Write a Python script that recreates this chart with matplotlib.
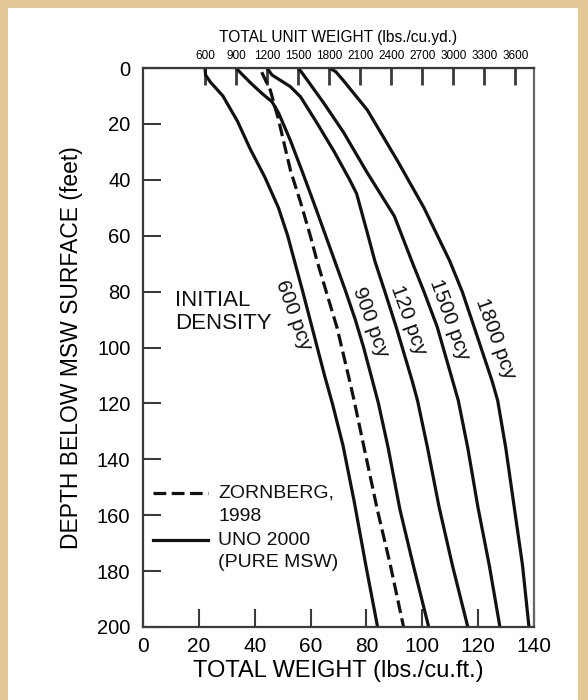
import matplotlib
matplotlib.use("Agg")
import matplotlib.pyplot as plt
from matplotlib.patches import Rectangle

plt.rcParams['font.family'] = ['Liberation Sans', 'DejaVu Sans']

# depth (ft) vs total weight (pcf)
depth_600 = [0, 2.5, 5, 10, 19, 29, 39, 50, 60, 70, 80, 90, 100, 110, 120, 135, 155, 178, 200]
w_600 = [22.2, 22.4, 24.1, 28.6, 33.8, 38.4, 43.6, 48.5, 51.8, 54.5, 57.2, 59.8, 62.4, 65.0, 67.8, 71.6, 75.6, 79.8, 84.0]

depth_900 = [0, 1.9, 5.5, 9.1, 12.1, 16.2, 26, 37, 50, 60, 70, 80, 90, 100, 112, 120, 136, 158, 178, 200]
w_900 = [33.3, 35.1, 38.7, 42.6, 46.2, 48.6, 52.8, 57.0, 61.8, 65.4, 69.0, 72.6, 76.0, 79.0, 82.2, 84.3, 87.8, 92.0, 96.8, 102.3]

depth_1200 = [0, 2.5, 6.7, 10.3, 19.7, 30, 40, 45, 60, 69, 80, 92.5, 112, 119, 136, 157, 178, 200]
w_1200 = [44.4, 46.2, 52.8, 56.4, 62.3, 68.5, 74.0, 76.5, 80.6, 83.0, 86.6, 90.6, 96.4, 98.3, 101.9, 106.0, 110.8, 116.3]

depth_1500 = [0, 1, 4.3, 12.5, 23, 37, 53, 69, 80, 92.5, 112, 119, 136, 157, 178, 200]
w_1500 = [55.6, 56.4, 58.8, 64.7, 71.8, 80.0, 90.0, 96.2, 100.6, 105.3, 110.9, 112.9, 116.3, 119.9, 124.0, 127.8]

depth_1800 = [0, 1.3, 4.3, 15, 33, 50, 69, 80, 92.5, 112, 119, 136, 157, 178, 200]
w_1800 = [66.7, 69.0, 71.6, 80.3, 91.0, 100.6, 109.8, 114.3, 118.5, 125.0, 127.0, 129.9, 132.9, 135.9, 138.2]

# Zornberg 1998
depth_zorn = [1.5, 8, 18, 29, 37, 48, 60, 69, 80, 93, 112, 119, 136, 158, 178, 200]
w_zorn = [42.5, 45.6, 48.4, 51.0, 52.9, 56.4, 59.9, 62.3, 65.6, 69.5, 74.0, 75.6, 79.2, 83.9, 88.6, 93.3]

curve_labels = ['600 pcy', '900 pcy', '120 pcy', '1500 pcy', '1800 pcy']
label_x = [53.9, 81.5, 95.2, 109.6, 126.3]
label_y = [88.4, 90.8, 90.2, 90.2, 96.7]

top_ticks = list(range(600, 3601, 300))
dark = '#111111'
frame = '#3a3a3a'

fig = plt.figure(figsize=(5.88, 7.0), dpi=100)
fig.patch.set_facecolor('#e4c998')
fig.patches.append(Rectangle((8 / 588, 0), 570 / 588, 692 / 700, transform=fig.transFigure,
                             facecolor='white', edgecolor='none', zorder=-5))

ax = fig.add_axes([143 / 588, 1 - 627 / 700, 391 / 588, 559 / 700])
ax.set_facecolor('white')

for d, w in [(depth_600, w_600), (depth_900, w_900), (depth_1200, w_1200),
             (depth_1500, w_1500), (depth_1800, w_1800)]:
    ax.plot(w, d, color=dark, lw=2.3, solid_joinstyle='round', solid_capstyle='round')
ax.plot(w_zorn, depth_zorn, color=dark, lw=2.3, linestyle=(0, (4.0, 1.7)))

for t, x, y in zip(curve_labels, label_x, label_y):
    ax.text(x, y, t, rotation=-70, ha='center', va='center', fontsize=15, color=dark,
            rotation_mode='anchor')

ax.text(0.083, 0.603, 'INITIAL\nDENSITY', transform=ax.transAxes, fontsize=16,
        ha='left', va='top', linespacing=1.15, color=dark)

# legend drawn by hand
ax.plot([0.026, 0.166], [0.2397, 0.2397], transform=ax.transAxes, color=dark, lw=2.3,
        linestyle=(0, (4.0, 1.7)))
ax.plot([0.026, 0.166], [0.1556, 0.1556], transform=ax.transAxes, color=dark, lw=2.3)
for txt, yy in [('ZORNBERG,', 0.2397), ('1998', 0.1968),
                ('UNO 2000', 0.1556), ('(PURE MSW)', 0.1145)]:
    ax.text(0.192, yy, txt, transform=ax.transAxes, fontsize=14,
            ha='left', va='center', color=dark)

ax.set_xlim(0, 140)
ax.set_ylim(200, 0)
ax.set_xticks(range(0, 141, 20))
ax.set_yticks(range(0, 201, 20))
ax.tick_params(axis='x', direction='in', length=13, width=1.5, color=frame,
               labelsize=15, pad=7, top=False)
ax.tick_params(axis='y', direction='in', length=13, width=1.5, color=frame,
               labelsize=14.5, pad=9, right=False)
for s in ax.spines.values():
    s.set_color(frame)
    s.set_linewidth(1.6)
ax.spines['right'].set_color('#666666')

ax.set_xlabel('TOTAL WEIGHT (lbs./cu.ft.)', fontsize=17, labelpad=3)
ax.set_ylabel('DEPTH BELOW MSW SURFACE (feet)', fontsize=16.5, labelpad=10)

top = ax.secondary_xaxis('top', functions=(lambda x: x * 27, lambda x: x / 27))
top.set_xticks(top_ticks)
top.tick_params(direction='in', length=12, width=2, color=frame, labelsize=8.5, pad=4)
top.set_xlabel('TOTAL UNIT WEIGHT (lbs./cu.yd.)', fontsize=11.2, labelpad=6)

fig.savefig('out.png', dpi=100, facecolor=fig.get_facecolor())
